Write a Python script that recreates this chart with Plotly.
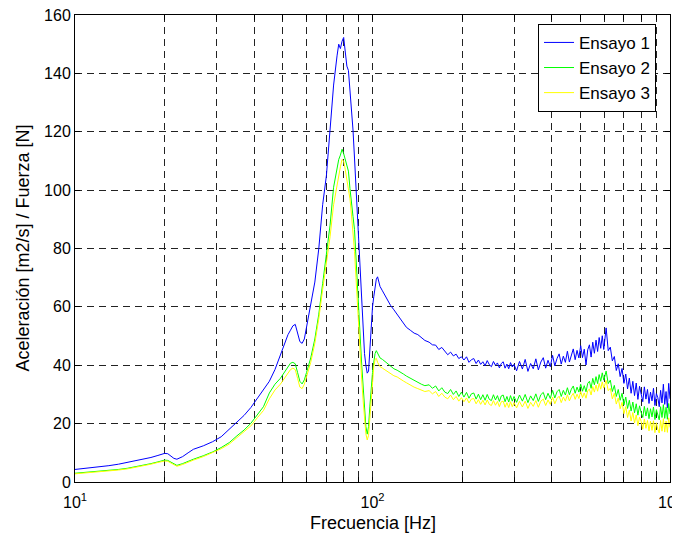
import plotly.graph_objects as go

# ---------------- data ----------------
freq_low = [10, 11, 12, 13, 14, 15, 16, 17, 18, 19, 20, 20.5, 21, 21.5, 22, 23, 24, 25,
            27, 29, 31, 33, 35, 37, 39, 41, 43, 45, 47, 49, 51, 52, 53, 54, 55, 56, 57,
            58, 59, 60, 62, 64, 66, 68, 70, 72, 74, 76, 77, 78, 79, 80, 81, 82, 83, 84,
            85, 86, 87, 88, 89, 90, 91, 92, 93, 94, 95, 96, 97, 98, 99, 100, 101, 102,
            103, 104, 105, 106, 108, 110, 112, 115, 118, 121, 124, 127, 130, 134, 138,
            142, 146, 150]
freq_high = [155, 159, 163, 167, 171, 175, 179, 183, 187, 191, 195, 199, 203, 207, 211,
             215, 219, 223, 227, 231, 235, 239, 243, 247, 251, 255, 259, 263, 267, 271,
             275, 279, 283, 287, 291, 295, 299,
             305, 312, 319, 326, 333, 340, 347, 354, 361, 368, 375, 382, 389, 396, 403,
             410, 417, 424, 431, 438, 445, 452, 459, 466, 473, 480, 487, 494, 501, 508,
             515, 522, 529, 536, 543, 550, 557, 564, 571, 578, 585, 592, 599,
             610, 620, 630, 640, 650, 660, 670, 680, 690, 700, 710, 720, 730, 740, 750,
             760, 770, 780, 790, 800, 810, 820, 830, 840, 850, 860, 870, 880, 890, 900,
             910, 920, 930, 940, 950, 960, 970, 980, 990, 1000]

ensayo1_low = [4.3, 4.7, 5.2, 5.6, 6.1, 6.7, 7.2, 7.8, 8.4, 9.1, 9.8, 9.7, 9.0, 8.1, 7.8,
               8.7, 10.0, 11.2, 12.4, 13.8, 15.5, 18.0, 20.5, 22.8, 25.5, 28.5, 31.5, 34.5,
               38.5, 43.5, 48.5, 50.5, 52.0, 53.5, 54.0, 51.0, 48.1, 47.5, 49.0, 53.0, 60.5,
               68.5, 80.0, 95.0, 105.0, 122.0, 136.0, 146.0, 150.0, 148.5, 151.0, 152.3,
               148.0, 142.5, 141.0, 135.0, 129.0, 120.6, 111.0, 101.0, 92.0, 80.0, 68.0,
               58.0, 50.0, 44.0, 40.0, 37.3, 38.0, 45.0, 54.0, 60.0, 63.5, 66.5, 69.5, 70.3,
               68.5, 67.0, 65.5, 64.0, 62.3, 60.5, 59.0, 57.5, 56.0, 54.5, 53.0, 52.0, 51.0,
               50.5, 49.5, 48.5]
ensayo1_high = [47.9, 47.0, 46.9, 45.4, 46.1, 44.9, 43.6, 44.5, 43.2, 43.8, 42.3, 42.9,
                41.8, 42.9, 41.0, 41.9, 42.3, 40.6, 41.8, 40.3, 41.2, 39.8, 41.6, 40.2,
                39.5, 41.3, 40.0, 40.8, 39.1, 40.6, 41.2, 39.0, 40.4, 38.8, 40.9, 39.4, 40.3,
                38.1, 41.3, 38.7, 42.0, 37.9, 40.6, 38.8, 42.2, 38.4, 41.1, 42.6, 39.0,
                41.7, 39.5, 43.4, 39.8, 42.3, 43.9, 40.4, 43.1, 41.0, 44.8, 41.1, 43.7,
                45.6, 41.9, 45.1, 42.5, 46.7, 42.6, 45.5, 40.1, 45.3, 47.0, 42.8, 47.9,
                44.1, 48.6, 44.7, 49.5, 45.8, 50.1, 45.4,
                52.8, 45.0, 46.2, 41.5, 43.0, 38.2, 40.5, 36.1, 38.9, 33.8, 37.0, 31.9,
                35.6, 30.4, 34.5, 29.6, 33.9, 28.3, 32.8, 29.7, 27.5, 32.6, 28.4, 31.7,
                26.9, 30.8, 27.8, 32.1, 26.2, 30.3, 28.9, 25.8, 31.4, 27.1, 33.5, 26.6,
                31.0, 25.4, 33.8, 28.5]

ensayo2_low = [3.0, 3.3, 3.6, 3.9, 4.3, 4.7, 5.2, 5.7, 6.3, 6.9, 7.5, 7.4, 6.8, 6.0, 5.7,
               6.3, 7.2, 7.8, 9.0, 10.3, 11.8, 13.5, 15.8, 17.8, 20.1, 23.0, 25.8, 30.5,
               33.5, 35.5, 38.0, 39.5, 40.7, 41.0, 40.5, 37.5, 34.5, 33.6, 35.0, 37.5, 42.5,
               49.0, 57.5, 68.0, 78.0, 88.0, 101.0, 108.0, 110.5, 112.0, 114.0, 112.5,
               110.5, 108.5, 106.5, 100.5, 94.5, 91.0, 86.5, 78.0, 68.0, 57.0, 49.0, 40.0,
               32.0, 25.0, 19.0, 16.4, 19.0, 26.0, 33.0, 37.5, 41.0, 44.0, 45.0, 44.0, 43.0,
               42.5, 42.0, 41.3, 40.5, 39.5, 38.8, 38.3, 37.5, 37.0, 36.3, 35.5, 34.8, 34.2,
               33.5, 33.0]
ensayo2_high = [33.3, 32.1, 32.9, 31.2, 32.3, 30.8, 30.3, 31.7, 30.0, 31.2, 29.3, 30.8,
                29.1, 30.7, 28.7, 30.2, 30.5, 28.4, 30.1, 28.2, 29.9, 28.0, 30.0, 28.3,
                27.9, 29.9, 28.1, 29.6, 27.6, 29.5, 29.8, 27.5, 29.3, 27.4, 29.6, 27.7, 29.3,
                27.3, 29.8, 27.7, 30.0, 27.2, 29.5, 27.9, 30.2, 27.6, 29.9, 30.7, 28.2,
                30.4, 28.6, 31.4, 28.8, 30.9, 31.7, 29.3, 31.4, 29.8, 32.3, 29.9, 31.8,
                32.9, 30.4, 32.5, 30.8, 33.5, 31.1, 33.0, 30.9, 33.8, 34.5, 32.1, 35.5,
                33.3, 36.1, 33.7, 36.8, 34.5, 37.4, 34.9,
                38.0, 33.7, 34.9, 31.0, 33.1, 29.3, 31.7, 28.0, 30.4, 26.4, 29.1, 25.2,
                28.0, 24.3, 27.4, 23.7, 26.8, 22.9, 26.1, 23.8, 22.1, 25.9, 22.6, 25.4,
                21.7, 25.1, 22.3, 25.7, 21.4, 24.8, 22.7, 21.3, 25.8, 22.1, 26.5, 21.8,
                25.6, 21.5, 26.9, 23.3]

ensayo3_low = [2.8, 3.1, 3.4, 3.7, 4.1, 4.5, 5.0, 5.5, 6.1, 6.7, 7.2, 7.1, 6.5, 5.7, 5.4,
               6.0, 6.9, 7.5, 8.7, 10.0, 11.4, 13.0, 15.2, 17.0, 19.2, 22.0, 24.5, 28.5,
               31.5, 33.5, 36.0, 37.5, 38.5, 39.0, 38.5, 35.5, 32.5, 32.0, 33.5, 36.0, 41.0,
               47.5, 56.0, 66.0, 75.0, 84.0, 95.0, 102.0, 105.0, 108.0, 110.5, 110.0, 107.0,
               104.0, 100.5, 97.0, 91.5, 86.0, 79.0, 70.0, 60.0, 51.0, 43.0, 35.0, 28.0,
               22.0, 16.5, 14.4, 16.0, 22.0, 29.0, 35.0, 39.5, 42.0, 42.4, 41.0, 40.0, 39.5,
               39.0, 38.5, 37.8, 37.0, 36.4, 36.0, 35.2, 34.6, 34.0, 33.2, 32.5, 32.0, 31.5,
               31.0]
ensayo3_high = [31.3, 30.2, 31.0, 29.3, 30.4, 29.1, 28.5, 29.8, 28.2, 29.3, 27.7, 28.9,
                27.5, 28.8, 27.1, 28.4, 28.6, 26.8, 28.2, 26.6, 28.0, 26.4, 28.1, 26.6,
                26.2, 27.9, 26.3, 27.6, 25.8, 27.5, 27.7, 25.6, 27.2, 25.5, 27.5, 25.8, 27.2,
                25.4, 27.6, 25.7, 27.7, 25.2, 27.3, 25.9, 27.9, 25.6, 27.7, 28.4, 26.2,
                28.1, 26.6, 29.1, 26.8, 28.6, 29.4, 27.2, 29.1, 27.7, 29.9, 27.8, 29.4,
                30.4, 28.3, 30.1, 28.6, 31.0, 28.9, 30.5, 28.7, 31.3, 31.8, 29.8, 32.7,
                30.8, 33.2, 31.1, 33.8, 31.8, 34.3, 32.2,
                34.8, 31.3, 32.1, 28.5, 30.4, 26.7, 28.8, 25.1, 27.3, 23.4, 25.8, 22.1,
                24.6, 20.9, 23.8, 20.2, 23.0, 19.3, 22.2, 20.8, 18.1, 21.6, 18.4, 21.1,
                17.5, 20.8, 17.7, 21.0, 16.9, 20.3, 18.1, 16.8, 21.1, 17.4, 21.7, 17.1,
                20.9, 17.0, 22.0, 18.7]

series_names = ["Ensayo 1", "Ensayo 2", "Ensayo 3"]
series_colors = ["#0000ff", "#00ff00", "#ffff00"]

x_major_vals = [10, 100, 1000]
x_major_text = ["10<sup>1</sup>", "10<sup>2</sup>", "10<sup>3</sup>"]
x_minor_vals = [20, 30, 40, 50, 60, 70, 80, 90, 200, 300, 400, 500, 600, 700, 800, 900]
y_ticks = [0, 20, 40, 60, 80, 100, 120, 140, 160]

x_title = "Frecuencia [Hz]"
y_title = "Aceleración [m2/s] / Fuerza [N]"

# ---------------- figure ----------------
freq = freq_low + freq_high
ys = [ensayo1_low + ensayo1_high, ensayo2_low + ensayo2_high, ensayo3_low + ensayo3_high]

fig = go.Figure()
for name, color, y in zip(series_names, series_colors, ys):
    fig.add_trace(go.Scatter(x=freq, y=y, mode="lines", name=name,
                             line=dict(color=color, width=1)))

font_family = "Liberation Sans, Arial, Helvetica, sans-serif"
grid_style = dict(showgrid=True, gridcolor="#222222", gridwidth=1, griddash="7px,5px")

fig.update_layout(
    width=672, height=535,
    margin=dict(l=67, r=10, t=7, b=61),
    paper_bgcolor="white", plot_bgcolor="white",
    font=dict(family=font_family, size=16, color="black"),
    showlegend=True,
    legend=dict(x=0.9765, y=0.981, xanchor="right", yanchor="top",
                bgcolor="white", bordercolor="black", borderwidth=1,
                font=dict(size=17, family=font_family, color="black"),
                tracegroupgap=0),
    annotations=[
        dict(text=x_title, xref="paper", yref="paper", x=0.5, y=0,
             xanchor="center", yanchor="middle", yshift=-41, showarrow=False,
             font=dict(size=18, family=font_family, color="black")),
        dict(text=y_title, xref="paper", yref="paper", x=0, y=0.5,
             xanchor="center", yanchor="middle", xshift=-53, textangle=-90,
             showarrow=False, font=dict(size=18, family=font_family, color="black")),
    ],
)
fig.update_xaxes(
    type="log", range=[1, 3],
    tickmode="array", tickvals=x_major_vals, ticktext=x_major_text,
    ticks="inside", ticklen=5, tickcolor="black", tickfont=dict(size=16),
    ticklabeloverflow="allow", ticklabelstandoff=6,
    showline=True, linecolor="black", linewidth=1, mirror="ticks",
    zeroline=False, automargin=False,
    minor=dict(tickmode="array", tickvals=x_minor_vals, ticks="inside", ticklen=5,
               tickcolor="black", **grid_style),
    **grid_style,
)
fig.update_yaxes(
    range=[0, 160], tickmode="array", tickvals=y_ticks,
    ticks="inside", ticklen=5, tickcolor="black", tickfont=dict(size=16),
    ticklabeloverflow="allow",
    showline=True, linecolor="black", linewidth=1, mirror="ticks",
    zeroline=False, automargin=False,
    **grid_style,
)

fig.write_html("out.html")
